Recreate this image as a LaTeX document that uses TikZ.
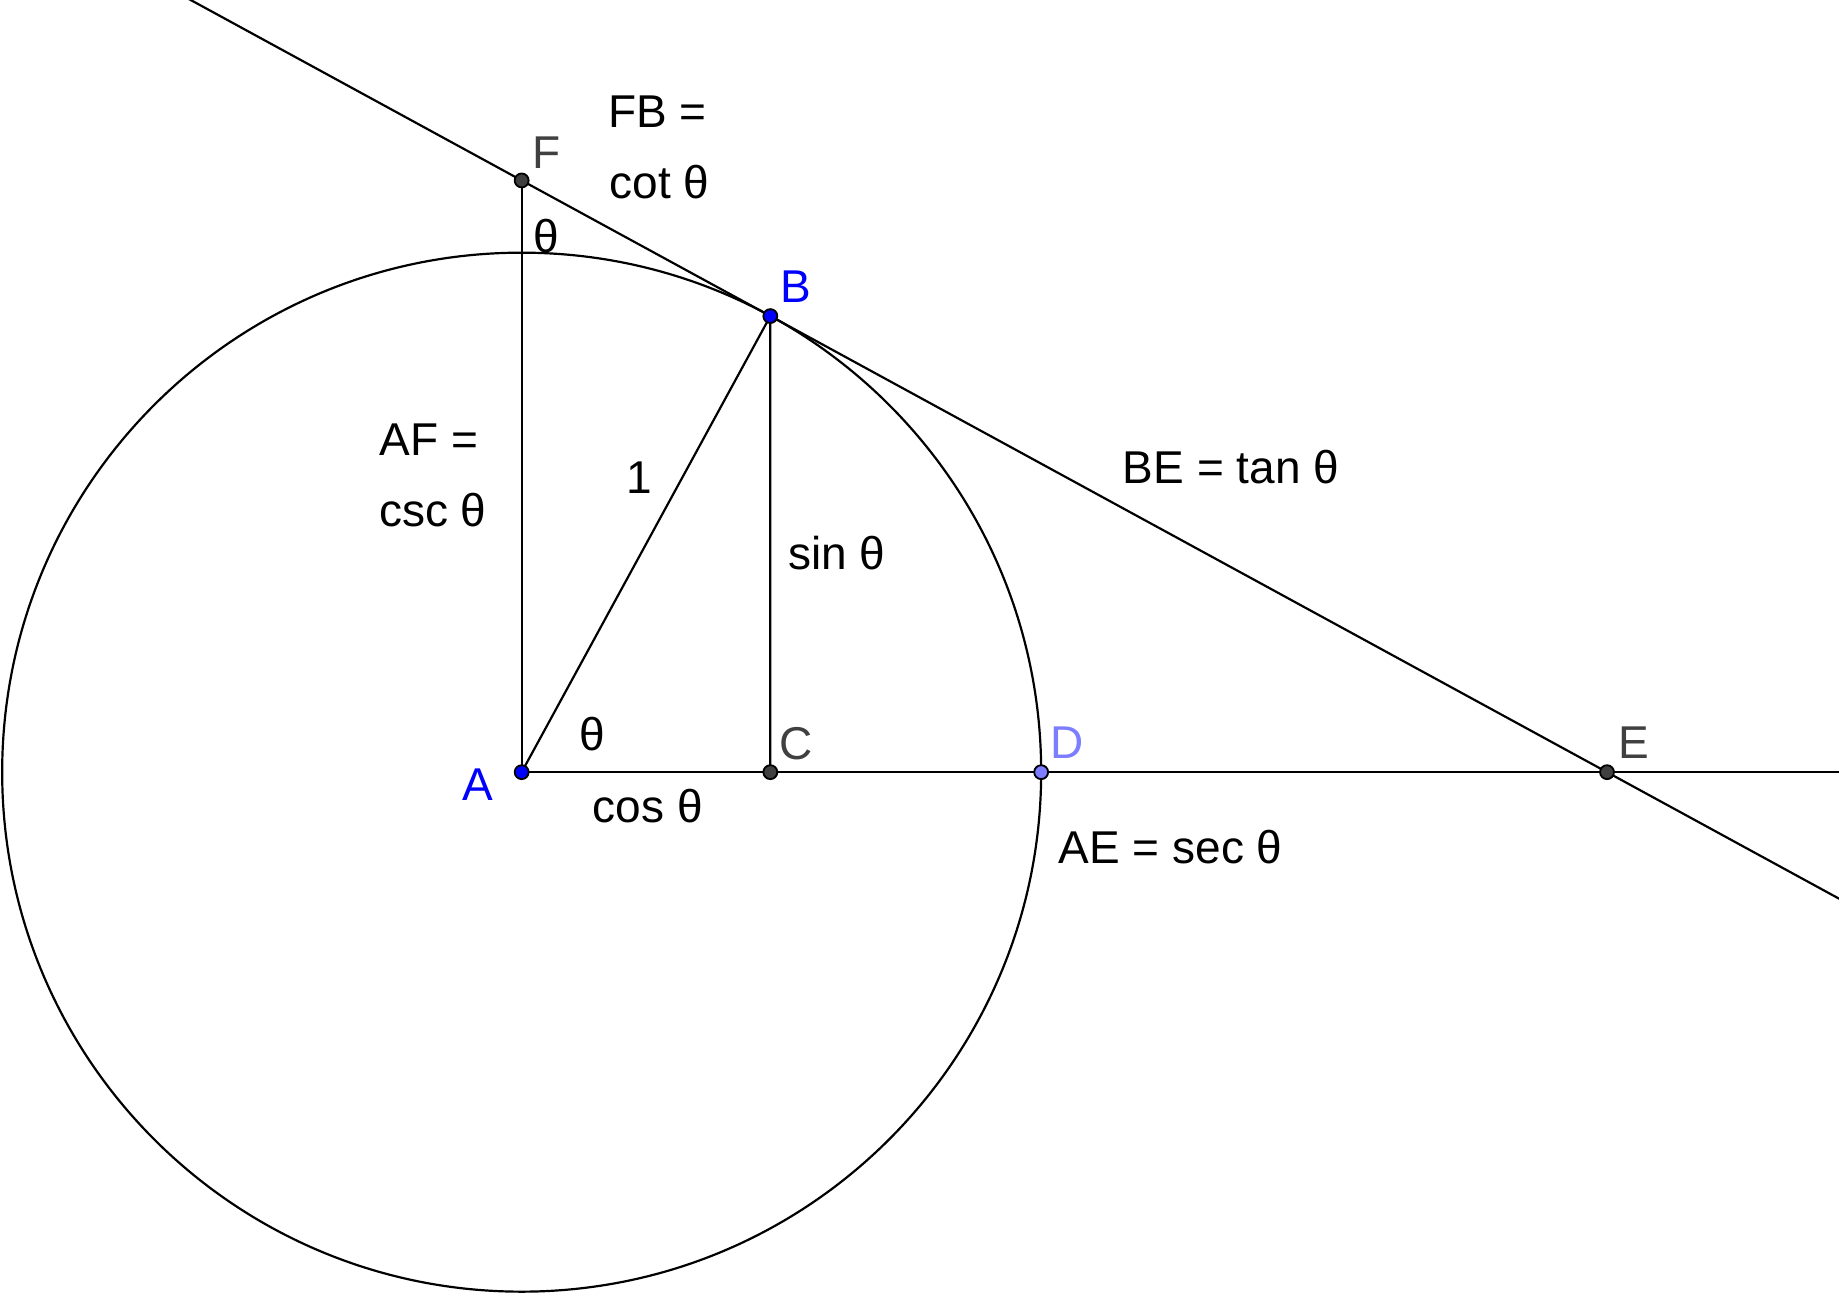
\documentclass[tikz,border=0pt]{standalone}
\usepackage{fontspec}
\setmainfont{Liberation Sans}
\usepackage{tikz}
\usetikzlibrary{calc}

\definecolor{ptgray}{RGB}{64,64,64}
\definecolor{ptlight}{RGB}{125,125,255}

\begin{document}
\begin{tikzpicture}[line width=0.6pt,
    every node/.style={font=\fontsize{12.6}{15}\selectfont, inner sep=0pt},
    lbl/.style={anchor=base west},
    dot/.style={draw=black, line width=0.5pt}]
    \useasboundingbox (-5.021,-5.012) rectangle (12.679,7.432);
    \clip (-5.021,-5.012) rectangle (12.679,7.432);
    \def\ang{61.4}
    \def\rad{5}

    \coordinate (A) at (0,0);
    \coordinate (B) at (\ang:\rad);
    \coordinate (C) at ({\rad*cos(\ang)},0);
    \coordinate (D) at (\rad,0);
    \coordinate (E) at ({\rad/cos(\ang)},0);
    \coordinate (F) at (0,{\rad/sin(\ang)});
    \coordinate (R) at (12.679,0);

    \draw (A) circle (\rad);
    \draw (A) -- (R);
    \draw (A) -- (F);
    \draw (A) -- (B) -- (C);
    % tangent line through F, B and E
    \draw ($(E)!1.4!(F)$) -- ($(F)!1.4!(E)$);

    \fill[dot, fill=blue] (A) circle (0.067);
    \fill[dot, fill=blue] (B) circle (0.067);
    \fill[dot, fill=ptgray] (C) circle (0.067);
    \fill[dot, fill=ptlight] (D) circle (0.067);
    \fill[dot, fill=ptgray] (E) circle (0.067);
    \fill[dot, fill=ptgray] (F) circle (0.067);

    \node[lbl, text=blue] (labA) at ($(A)+(-0.577,-0.276)$) {A};
    \node[lbl, text=blue] (labB) at ($(B)+(0.086,0.129)$) {B};
    \node[lbl, text=ptgray] (labC) at ($(C)+(0.077,0.118)$) {C};
    \node[lbl, text=ptlight] (labD) at ($(D)+(0.084,0.13)$) {D};
    \node[lbl, text=ptgray] (labE) at ($(E)+(0.10,0.13)$) {E};
    \node[lbl, text=ptgray] (labF) at ($(F)+(0.09,0.117)$) {F};

    \node[lbl] (fb) at (0.822,6.203) {FB =};
    \node[lbl] (cot) at (0.837,5.526) {cot θ};
    \node[lbl] (af) at (-1.376,3.043) {AF =};
    \node[lbl] (csc) at (-1.382,2.365) {csc θ};
    \node[lbl] (one) at (1.0,2.684) {1};
    \node[lbl] (sin) at (2.554,1.946) {sin θ};
    \node[lbl] (tan) at (5.776,2.783) {BE = tan θ};
    \node[lbl] (thA) at (0.55,0.209) {θ};
    \node[lbl] (thF) at (0.10,5.003) {θ};
    \node[lbl] (cos) at (0.674,-0.481) {cos θ};
    \node[lbl] (sec) at (5.159,-0.876) {AE = sec θ};
\end{tikzpicture}
\end{document}
